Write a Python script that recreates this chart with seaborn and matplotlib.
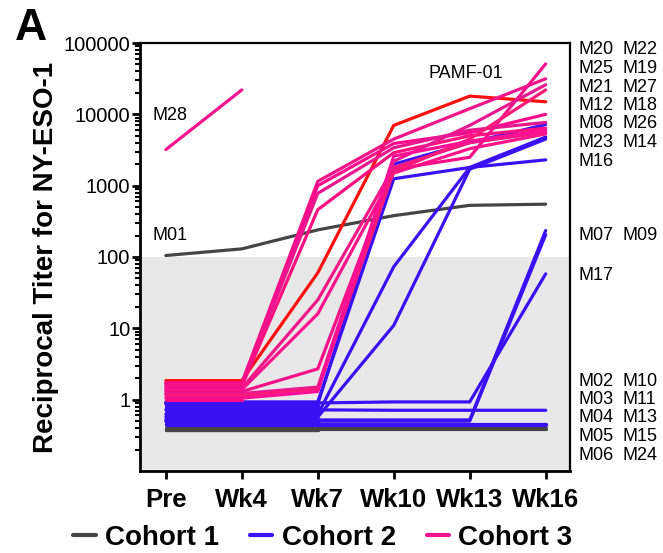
import numpy as np
import pandas as pd
import matplotlib
matplotlib.use("Agg")
import matplotlib.pyplot as plt
import seaborn as sns
from matplotlib.lines import Line2D
from matplotlib.ticker import LogLocator, NullFormatter, FixedLocator, FixedFormatter

nan = np.nan

# ---------------- data ----------------
weeks = ["Pre", "Wk4", "Wk7", "Wk10", "Wk13", "Wk16"]

# Cohort 1
cohort1_ids = ["M01", "M02", "M03", "M04", "M05"]
cohort1_titers = [
    [105, 130, 240, 380, 530, 550],
    [0.40, 0.40, 0.40, 0.40, 0.40, 0.40],
    [0.38, 0.38, 0.38, nan, nan, nan],
    [0.39, 0.39, 0.39, 0.39, 0.39, 0.39],
    [0.37, 0.37, 0.37, nan, nan, nan],
]

# Cohort 2
cohort2_ids = ["M16", "M14", "M23", "M26", "M17", "M07", "M09",
               "M10", "M11", "M13", "M15", "M24", "M06",
               "M29", "M30", "M31", "M32", "M33", "M34"]
cohort2_titers = [
    [0.93, 0.93, 0.93, 1250, 1800, 2300],
    [0.87, 0.87, 0.87, 2000, 4000, 7200],
    [0.62, 0.62, 0.62, 73, 1800, 4800],
    [0.57, 0.57, 0.57, 11, 1700, 4500],
    [0.90, 0.90, 0.90, 0.93, 0.93, 58],
    [0.52, 0.52, 0.52, 0.52, 0.52, 235],
    [0.50, 0.50, 0.50, 0.50, 0.50, 205],
    [0.72, 0.72, 0.72, 0.71, 0.71, 0.71],
    [0.46, 0.46, 0.46, 0.46, 0.46, 0.46],
    [0.44, 0.44, 0.44, 0.44, 0.44, 0.44],
    [0.80, 0.80, 0.80, nan, nan, nan],
    [0.75, 0.75, 0.75, nan, nan, nan],
    [0.67, 0.67, 0.67, nan, nan, nan],
    [0.83, 0.83, 0.83, nan, nan, nan],
    [0.77, 0.77, 0.77, nan, nan, nan],
    [0.65, 0.65, 0.65, nan, nan, nan],
    [0.59, 0.59, 0.59, nan, nan, nan],
    [0.54, 0.54, 0.54, nan, nan, nan],
    [0.48, 0.48, 0.48, nan, nan, nan],
]

# Cohort 3
cohort3_ids = ["M20", "M22", "M25", "M19", "M21", "M27", "M12",
               "M18", "M08", "M35", "M36", "M37", "M38", "M28"]
cohort3_titers = [
    [1.72, 1.72, 1150, 4500, 12000, 31500],
    [1.68, 1.68, 1000, 3900, 5500, 10000],
    [1.62, 1.62, 780, 3400, 6000, 7700],
    [1.55, 1.55, 460, 2900, 5000, 6400],
    [1.45, 1.45, 25, 1800, 4000, 5600],
    [1.38, 1.38, 16, 1500, 3300, 5300],
    [1.30, 1.30, 2.7, 1700, 2500, 51000],
    [1.22, 1.22, 1.5, 2200, 7000, 26000],
    [1.15, 1.15, 1.4, 1600, 4500, 22000],
    [1.05, 1.05, 1.3, 2600, 4200, 6000],
    [1.10, 1.10, nan, nan, nan, nan],
    [1.00, 1.00, nan, nan, nan, nan],
    [1.50, 1.50, nan, nan, nan, nan],
    [3200, 22000, nan, nan, nan, nan],
]
pamf_id = "PAMF-01"
pamf_titers = [1.85, 1.85, 60, 7000, 18000, 15000]

right_labels_top = [("M20", "M22"), ("M25", "M19"), ("M21", "M27"),
                    ("M12", "M18"), ("M08", "M26"), ("M23", "M14"), ("M16", "")]
right_labels_mid = [("M07", "M09"), ("M17", "")]
right_labels_low = [("M02", "M10"), ("M03", "M11"), ("M04", "M13"),
                    ("M05", "M15"), ("M06", "M24")]
legend_labels = ["Cohort 1", "Cohort 2", "Cohort 3"]

# ---------------- styling ----------------
c1_color = "#454545"
c2_color = "#3a10f5"
c3_color = "#f5128f"
pamf_color = "#ff1010"
pink_shades = ["#f0158a", "#ff0a8c", "#e8168f", "#ff0f80", "#f01a86",
               "#ff148c", "#f5108a", "#e81890", "#ff1a78", "#ff0f95",
               "#f5128f", "#ff0a8a", "#f2128c", "#f5128f"]

rows = []
palette = {}
order = []
for pid, vals in zip(cohort1_ids, cohort1_titers):
    order.append(pid); palette[pid] = c1_color
    for i, v in enumerate(vals):
        rows.append((pid, i, v))
for pid, vals in zip(cohort2_ids, cohort2_titers):
    order.append(pid); palette[pid] = c2_color
    for i, v in enumerate(vals):
        rows.append((pid, i, v))
order.append(pamf_id); palette[pamf_id] = pamf_color
for i, v in enumerate(pamf_titers):
    rows.append((pamf_id, i, v))
for k, (pid, vals) in enumerate(zip(cohort3_ids, cohort3_titers)):
    order.append(pid); palette[pid] = pink_shades[k % len(pink_shades)]
    for i, v in enumerate(vals):
        rows.append((pid, i, v))
df = pd.DataFrame(rows, columns=["patient", "week", "titer"]).dropna()

sns.set_theme(style="ticks")
plt.rcParams["font.family"] = ["Liberation Sans", "DejaVu Sans"]
for key in ("text.color", "axes.labelcolor", "xtick.color", "ytick.color", "axes.edgecolor"):
    plt.rcParams[key] = "black"

W, H = 663, 553
fig = plt.figure(figsize=(W / 100, H / 100), dpi=100)
L, R, T, B = 140, 570, 43, 471
ax = fig.add_axes([L / W, 1 - B / H, (R - L) / W, (B - T) / H])

ax.set_yscale("log")
ax.set_ylim(0.1, 100000)
ax.set_xlim(-0.34, 5.32)
ax.axhspan(0.1, 100, color="#e8e8e8", zorder=0, lw=0)

sns.lineplot(data=df, x="week", y="titer", hue="patient", hue_order=order,
             units="patient", estimator=None, palette=palette, legend=False,
             lw=2.3, ax=ax, zorder=2)

ax.set_xticks(range(len(weeks)))
ax.set_xticklabels(weeks, fontsize=18.5, fontweight="bold")
ax.tick_params(axis="x", length=6, width=2, pad=6, direction="out")
ax.yaxis.set_major_locator(FixedLocator([1, 10, 100, 1000, 10000, 100000]))
ax.yaxis.set_major_formatter(FixedFormatter(["1", "10", "100", "1000", "10000", "100000"]))
ax.yaxis.set_minor_locator(LogLocator(base=10, subs=np.arange(2, 10)))
ax.yaxis.set_minor_formatter(NullFormatter())
ax.tick_params(axis="y", which="major", length=6, width=2, pad=1, labelsize=14.5)
ax.tick_params(axis="y", which="minor", length=3.5, width=1.5)
ax.set_xlabel("")
ax.set_ylabel("Reciprocal Titer for NY-ESO-1", fontsize=20, fontweight="bold", labelpad=3)
for side, s in ax.spines.items():
    s.set_visible(True)
    s.set_color("black")
    s.set_linewidth(2.0 if side in ("left", "bottom") else 1.6)

# text labels
def ftext(x, y, s, **kw):
    fig.text(x / W, 1 - y / H, s, va="center", ha="left", fontsize=13, **kw)

ftext(153, 115, "M28")
ftext(153, 235, "M01")
ftext(428, 74, "PAMF-01")
for k, (a, b) in enumerate(right_labels_top):
    y = 50 + k * 18.5
    ftext(579, y, a); ftext(623, y, b)
ftext(579, 236, right_labels_mid[0][0]); ftext(623, 236, right_labels_mid[0][1])
ftext(579, 275, right_labels_mid[1][0])
for k, (a, b) in enumerate(right_labels_low):
    y = 381 + k * 18.5
    ftext(579, y, a); ftext(623, y, b)

fig.text(31 / W, 1 - 28 / H, "A", fontsize=32, fontweight="bold", ha="center", va="center")

handles = [Line2D([], [], color=c, lw=3) for c in (c1_color, c2_color, c3_color)]
fig.legend(handles, legend_labels, loc="center", bbox_to_anchor=(323 / W, 1 - 538 / H),
           ncol=3, frameon=False, handlelength=0.8, handletextpad=0.35,
           columnspacing=1.1, prop={"weight": "bold", "size": 20})

fig.savefig("out.png", dpi=100)
